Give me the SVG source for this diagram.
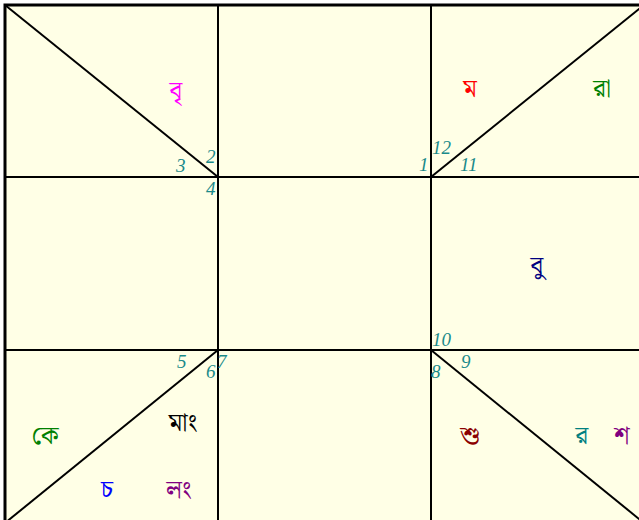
<svg xmlns="http://www.w3.org/2000/svg" width="639" height="520" viewBox="0 0 639 520">
<style>
.ln{stroke:#000;stroke-width:2;fill:none}
.num{font-family:"Liberation Serif",serif;font-style:italic;font-size:19px;fill:#1a8a8a}
.pl{font-family:"Noto Sans","Noto Serif Bengali","Noto Sans Bengali",serif;font-size:25px;text-anchor:middle}
</style>
<rect x="0" y="0" width="639" height="520" fill="#fff"/>
<g id="chart">
<rect x="5" y="5" width="639" height="519" fill="#ffffe6" stroke="#000" stroke-width="3"/>
</g>
<g id="connectors">
<line class="ln" x1="218" y1="5" x2="218" y2="524"/>
<line class="ln" x1="431" y1="5" x2="431" y2="524"/>
<line class="ln" x1="5" y1="177" x2="644" y2="177"/>
<line class="ln" x1="5" y1="350" x2="644" y2="350"/>
<line class="ln" x1="5" y1="5" x2="218" y2="177"/>
<line class="ln" x1="431" y1="177" x2="644" y2="5"/>
<line class="ln" x1="218" y1="350" x2="5" y2="523"/>
<line class="ln" x1="431" y1="350" x2="644" y2="523"/>
</g>
<g id="numbers">
<text class="num" x="176" y="172">3</text>
<text class="num" x="206" y="163">2</text>
<text class="num" x="206" y="195">4</text>
<text class="num" x="432" y="154">12</text>
<text class="num" x="419" y="171">1</text>
<text class="num" x="460" y="171">11</text>
<text class="num" x="432" y="346">10</text>
<text class="num" x="461" y="368">9</text>
<text class="num" x="431" y="378">8</text>
<text class="num" x="177" y="368">5</text>
<text class="num" x="206" y="378">6</text>
<text class="num" x="217" y="368">7</text>
</g>
<g id="house2"><text class="pl" x="176" y="99" fill="#ff00ff">বৃ</text></g>
<g id="house12"><text class="pl" x="470" y="97" fill="#ff0000">ম</text></g>
<g id="house11"><text class="pl" x="602" y="97" fill="#008000">রা</text></g>
<g id="house10"><text class="pl" x="537" y="274" fill="#000080">বু</text></g>
<g id="house5"><text class="pl" x="45" y="444" fill="#008000">কে</text></g>
<g id="house6a"><text class="pl" x="183" y="431" fill="#000">মাং</text></g>
<g id="house6b"><text class="pl" x="107" y="498" fill="#0000ff">চ</text></g>
<g id="house6c"><text class="pl" x="179" y="498" fill="#800080">লং</text></g>
<g id="house8"><text class="pl" x="470" y="444" fill="#8b0000">শু</text></g>
<g id="house9a"><text class="pl" x="582" y="444" fill="#008080">র</text></g>
<g id="house9b"><text class="pl" x="622" y="444" fill="#800080">শ</text></g>
</svg>
